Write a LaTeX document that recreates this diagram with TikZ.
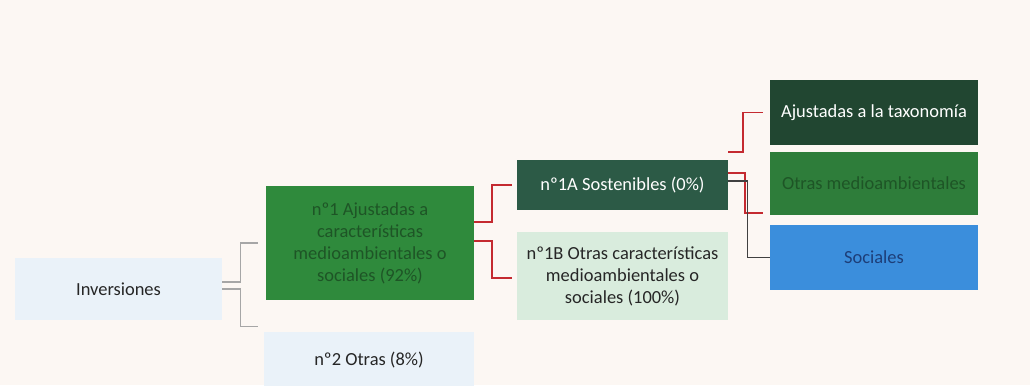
\documentclass[tikz,border=0pt]{standalone}
\usepackage{fontspec}
\setmainfont{Carlito}
\usepackage{tikz}
\usetikzlibrary{calc, positioning}
\definecolor{fondo}{HTML}{FCF7F3}
\definecolor{azulclaro}{HTML}{EAF2F9}
\definecolor{verde}{HTML}{2F8A3C}
\definecolor{verdetxt}{HTML}{1E5526}
\definecolor{verdeosc}{HTML}{2C5A46}
\definecolor{menta}{HTML}{D9ECDD}
\definecolor{taxo}{HTML}{214631}
\definecolor{verdemed}{HTML}{2E7D3A}
\definecolor{azul}{HTML}{3B8EDC}
\definecolor{azultxt}{HTML}{1D3E78}
\definecolor{rojo}{HTML}{C42A30}

\begin{document}
\begin{tikzpicture}[x=0.02cm, y=-0.02cm,
  caja/.style={rectangle, inner sep=2pt, align=center, font=\fontsize{10.5}{12.5}\selectfont},
  brk/.style={draw=gray!70, line width=0.6pt},
  redbr/.style={draw=rojo, line width=1.1pt},
  darkbr/.style={draw=black!75, line width=0.7pt}]
\fill[fondo] (0,0) rectangle (1030,385);
\clip (0,0) rectangle (1030,385);

\node[caja, fill=azulclaro, minimum width=4.14cm, minimum height=1.24cm, text=black!85] (inv) at (118.5,289) {Inversiones};
\node[caja, fill=verde, minimum width=4.16cm, minimum height=2.28cm, text=verdetxt] (n1) at (370,243)
  {nº1 Ajustadas a\\ características\\ medioambientales o\\ sociales (92\%)};
\node[caja, fill=azulclaro, minimum width=4.2cm, minimum height=1.12cm, text=black!85] (n2) at (369,360) {nº2 Otras (8\%)};
\node[caja, fill=verdeosc, minimum width=4.22cm, minimum height=1cm, text=white] (sust) at (622.5,185) {nº1A Sostenibles (0\%)};
\node[caja, fill=menta, minimum width=4.22cm, minimum height=1.76cm, text=black!85] (otra) at (622.5,276)
  {nº1B Otras características\\ medioambientales o\\ sociales (100\%)};
\node[caja, fill=taxo, minimum width=4.16cm, minimum height=1.3cm, text=white] (tax) at (874,112.5) {Ajustadas a la taxonomía};
\node[caja, fill=verdemed, minimum width=4.16cm, minimum height=1.26cm, text=verdetxt] (oma) at (874,183.5) {Otras medioambientales};
\node[caja, fill=azul, minimum width=4.16cm, minimum height=1.3cm, text=azultxt] (soc) at (874,257.5) {Sociales};

% llaves
\draw[brk] ($(inv.east)+(0,-7)$) -- ++(18,0) |- ($(n1.west)+(-8,0)$);
\draw[brk] (inv.east) -- ++(18,0) |- ($(n2.north west)+(-6,-5)$);
\draw[redbr] ($(n1.east)+(0,-21)$) -- ++(18,0) |- ($(sust.west)+(-5,0)$);
\draw[redbr] ($(n1.east)+(0,-2)$) -- ++(18,0) |- ($(otra.west)+(-5,2)$);
\draw[redbr] ($(sust.north east)+(0,-8)$) -- ++(15,0) |- ($(tax.west)+(-7,0)$);
\draw[redbr] ($(sust.east)+(0,-12)$) -- ++(17,0) |- ($(oma.west)+(-7,29.5)$);
\draw[darkbr] ($(sust.east)+(0,-4)$) -- ++(19,0) |- (soc.west);
\end{tikzpicture}
\end{document}
